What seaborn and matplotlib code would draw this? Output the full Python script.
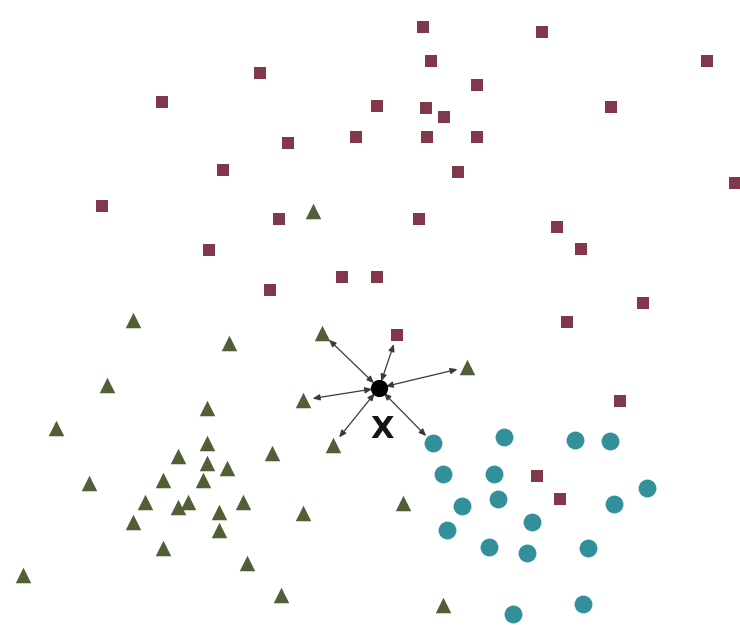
import numpy as np
import pandas as pd
import matplotlib
matplotlib.use("Agg")
import matplotlib.pyplot as plt
import seaborn as sns

# Class A: squares
sq_x = [260, 162, 288, 356, 223, 102, 279, 209, 342, 270,
        423, 542, 431, 707, 477, 377, 426, 444, 611, 427,
        477, 458, 735, 419, 557, 581, 377, 643, 567, 397,
        620, 537, 560]
sq_y = [73, 102, 143, 137, 170, 206, 219, 250, 277, 290,
        27, 32, 61, 61, 85, 106, 108, 117, 107, 137,
        137, 172, 183, 219, 227, 249, 277, 303, 322, 335,
        401, 476, 499]

# Class B: triangles
tri_x = [313, 133, 229, 322, 107, 207, 303, 56, 207, 178,
         272, 207, 333, 227, 163, 203, 89, 145, 188, 178,
         243, 219, 133, 303, 219, 163, 247, 23, 281, 467,
         403, 443]
tri_y = [211, 320, 343, 333, 385, 408, 400, 428, 443, 456,
         453, 463, 445, 468, 480, 480, 483, 502, 502, 507,
         502, 512, 522, 513, 530, 548, 563, 575, 595, 367,
         503, 605]

# Class C: circles
cir_x = [433, 504, 575, 610, 443, 494, 498, 462, 647, 614,
         532, 447, 489, 527, 588, 583, 513]
cir_y = [443, 437, 440, 441, 474, 474, 499, 506, 488, 504,
         522, 530, 547, 553, 548, 604, 614]

# Query point and its nearest neighbours
query = (379, 388)
nb_x = [322, 397, 467, 303, 333, 433]
nb_y = [333, 335, 367, 400, 445, 443]

df = pd.DataFrame({
    "x": sq_x + tri_x + cir_x,
    "y": sq_y + tri_y + cir_y,
    "cls": ["A"] * len(sq_x) + ["B"] * len(tri_x) + ["C"] * len(cir_x),
})

sns.set_theme(style="white")
fig = plt.figure(figsize=(7.4, 6.25), dpi=100)
ax = fig.add_axes([0, 0, 1, 1])

palette = {"A": "#80384a", "B": "#515f37", "C": "#31909a"}
markers = {"A": "s", "B": "^", "C": "o"}
sizes = {"A": 85, "B": 125, "C": 165}

for cls, sub in df.groupby("cls"):
    sns.scatterplot(data=sub, x="x", y="y", marker=markers[cls],
                    color=palette[cls], s=sizes[cls], linewidth=0,
                    ax=ax, legend=False, zorder=3)

# Lines from the query to each neighbour, small heads at both ends
for nx, ny in zip(nb_x, nb_y):
    ax.annotate("", xy=(nx, ny), xytext=query,
                arrowprops=dict(arrowstyle="<|-|>,head_length=0.35,head_width=0.15",
                                color="#3a3a3a", lw=0.9,
                                shrinkA=5, shrinkB=7),
                zorder=2)

ax.scatter([query[0]], [query[1]], s=130, color="black", zorder=4)
ax.text(query[0] + 3, query[1] + 42, "X", ha="center", va="center",
        fontsize=22, fontweight="bold", color="#151515", zorder=4)

ax.set_xlim(0, 740)
ax.set_ylim(625, 0)
ax.set_axis_off()
fig.savefig("out.png", dpi=100, facecolor="white")
